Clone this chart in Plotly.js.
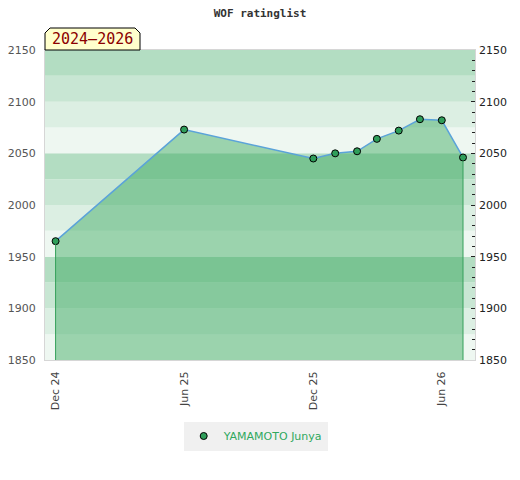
<!DOCTYPE html>
<html><head><meta charset="utf-8">
<script src="https://cdn.plot.ly/plotly-3.0.1.min.js"></script>
<style>html,body{margin:0;padding:0;background:#fff}#chart{width:520px;height:480px}</style>
</head><body><div id="chart"></div>
<script>
var dates = ['2024-12-01','2025-06-01','2025-12-01','2026-01-01','2026-02-01','2026-03-01','2026-04-01','2026-05-01','2026-06-01','2026-07-01'];
var ratings = [1965, 2073, 2045, 2050, 2052, 2064, 2072, 2083, 2082, 2046];
var playerName = 'YAMAMOTO Junya';
var periodLabel = '2024\u20132026';
var chartTitle = 'WOF ratinglist';
var yMin = 1850, yMax = 2150;

var bandColors = ['#eef7f1', '#dcefe3', '#c8e6d3', '#b3ddc2'];
var shapes = [];
var k = 0;
for (var v = yMin; v < yMax; v += 25) {
  shapes.push({type:'rect', xref:'paper', yref:'y', x0:0, x1:1, y0:v, y1:v+25,
    fillcolor: bandColors[k % 4], line:{width:0}, layer:'below'});
  k++;
}
function px(x){return (x-45)/430;}
function py(y){return (360-y)/310;}
shapes.push({type:'path', xref:'paper', yref:'paper',
  path:'M'+px(45)+','+py(50)+' L'+px(45)+','+py(33)+' L'+px(50)+','+py(28)+' L'+px(135)+','+py(28)+' L'+px(140)+','+py(33)+' L'+px(140)+','+py(50)+' Z',
  fillcolor:'#ffffcc', line:{color:'#000', width:1}});

var last = dates.length - 1;
var traces = [
  {x:dates, y:ratings, mode:'lines', fill:'tozeroy', fillcolor:'rgba(54,167,91,0.45)',
   line:{color:'#5ba3d9', width:1.5}, showlegend:false, hoverinfo:'skip'},
  {x:dates, y:ratings, mode:'markers', name:playerName,
   marker:{color:'#2f9e5a', size:7, line:{color:'#000', width:1}}, showlegend:true},
  {x:dates, y:ratings, yaxis:'y2', mode:'markers', marker:{opacity:0}, showlegend:false, hoverinfo:'skip'},
  {x:[dates[0], dates[0]], y:[yMin, ratings[0] - 3], mode:'lines', line:{color:'#35a05a', width:1}, showlegend:false},
  {x:[dates[last], dates[last]], y:[yMin, ratings[last] - 3], mode:'lines', line:{color:'#35a05a', width:1}, showlegend:false}
];

var layout = {
  width:520, height:480,
  margin:{l:45, r:45, t:50, b:120},
  paper_bgcolor:'#fff', plot_bgcolor:'#fff',
  title:{text:chartTitle, x:0.5, xanchor:'center', y:1-13/480, yanchor:'middle',
    font:{family:'DejaVu Sans Mono', size:11, color:'#333', weight:'bold'}},
  xaxis:{type:'date', range:['2024-11-16','2026-07-18'], tick0:'2024-12-01', dtick:'M6',
    tickformat:'%b %y', tickangle:-90, showgrid:false, zeroline:false, ticks:'',
    showline:true, linecolor:'#d6d6d6', mirror:true,
    tickfont:{family:'DejaVu Sans', size:11, color:'#444'}, ticklabelstandoff:6},
  yaxis:{range:[yMin, yMax], dtick:50, showgrid:false, zeroline:false, ticks:'',
    showline:true, linecolor:'#d6d6d6', mirror:true,
    tickfont:{family:'DejaVu Sans', size:11, color:'#555'}, ticklabelstandoff:6},
  yaxis2:{range:[yMin, yMax], dtick:50, overlaying:'y', side:'right', showgrid:false, zeroline:false,
    ticks:'inside', ticklen:4, tickcolor:'#222', showline:false,
    minor:{dtick:10, ticks:'inside', ticklen:3, tickcolor:'#222'},
    tickfont:{family:'DejaVu Sans', size:11, color:'#222'}, ticklabelstandoff:3},
  shapes:shapes,
  annotations:[{xref:'paper', yref:'paper', x:px(92.5), y:py(39.5), text:periodLabel, showarrow:false,
    xanchor:'center', yanchor:'middle', font:{family:'DejaVu Sans Mono', size:15, color:'#8b0000'}}],
  showlegend:true,
  legend:{orientation:'h', x:0.49, xanchor:'center', y:py(436), yanchor:'middle',
    bgcolor:'#f0f0f0', font:{family:'DejaVu Sans', size:11, color:'#2fa85e'}, itemwidth:30}
};
Plotly.newPlot('chart', traces, layout, {staticPlot:true, displayModeBar:false});
</script></body></html>
